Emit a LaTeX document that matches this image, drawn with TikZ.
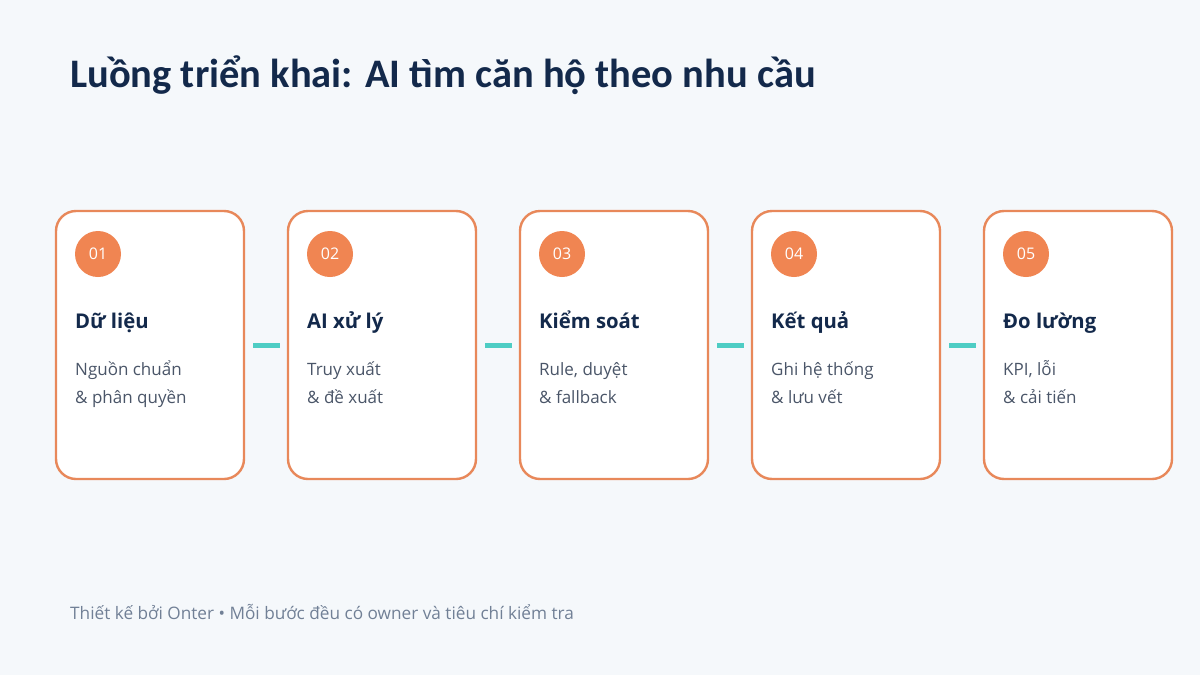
\documentclass[tikz,border=0pt]{standalone}
\usepackage{fontspec}
\setmainfont{Open Sans}
\newfontfamily\titlefont{Carlito}
\definecolor{bg}{HTML}{F5F8FB}
\definecolor{navy}{HTML}{13294B}
\definecolor{bordero}{HTML}{E8885A}
\definecolor{circo}{HTML}{F08552}
\definecolor{teal}{HTML}{4ECDC4}
\definecolor{bodyg}{HTML}{4A5568}
\definecolor{footg}{HTML}{718096}
\begin{document}
\begin{tikzpicture}[x=1pt,y=-1pt,
  card/.style={draw=bordero, line width=2.4pt, fill=white, rounded corners=20pt, minimum width=188pt, minimum height=268pt, inner sep=0pt},
  badge/.style={circle, fill=circo, minimum size=46pt, inner sep=0pt, text=white, font=\fontsize{16}{19}\selectfont},
  head/.style={anchor=base west, inner sep=0pt, text=navy, font=\fontsize{20.3}{24}\selectfont\bfseries},
  sub/.style={anchor=base west, inner sep=0pt, text=bodyg, font=\fontsize{17}{20}\selectfont},
  link/.style={draw=teal, line width=5pt, shorten <=8pt, shorten >=7pt}
]
\fill[bg] (0,0) rectangle (1200,675);
\useasboundingbox (0,0) rectangle (1200,675);
\node[anchor=base west, inner sep=0pt, text=navy, font=\titlefont\fontsize{40.5}{44}\selectfont\bfseries] (title) at (70,87) {Luồng triển khai: AI tìm căn hộ theo nhu cầu};
\foreach \i/\n/\h/\a/\b in {1/01/Dữ liệu/Nguồn chuẩn/\& phân quyền,
                            2/02/AI xử lý/Truy xuất/\& đề xuất,
                            3/03/Kiểm soát/{Rule, duyệt}/\& fallback,
                            4/04/Kết quả/Ghi hệ thống/\& lưu vết,
                            5/05/Đo lường/{KPI, lỗi}/\& cải tiến}{
  \pgfmathsetmacro{\xx}{56+(\i-1)*232}
  \node[card] (c\i) at (\xx+94,345) {};
  \node[badge] (b\i) at (\xx+42,254) {\n};
  \node[head] (h\i) at (\xx+19,328) {\h};
  \node[sub] (s\i) at (\xx+19,375) {\a};
  \node[sub] (t\i) at (\xx+19,403) {\b};
}
\foreach \i/\j in {1/2,2/3,3/4,4/5}{
  \draw[link] (c\i.east) -- (c\j.west);
}
\node[anchor=base west, inner sep=0pt, text=footg, font=\fontsize{17.2}{20}\selectfont] (foot) at (70,619) {Thiết kế bởi Onter • Mỗi bước đều có owner và tiêu chí kiểm tra};
\end{tikzpicture}
\end{document}
